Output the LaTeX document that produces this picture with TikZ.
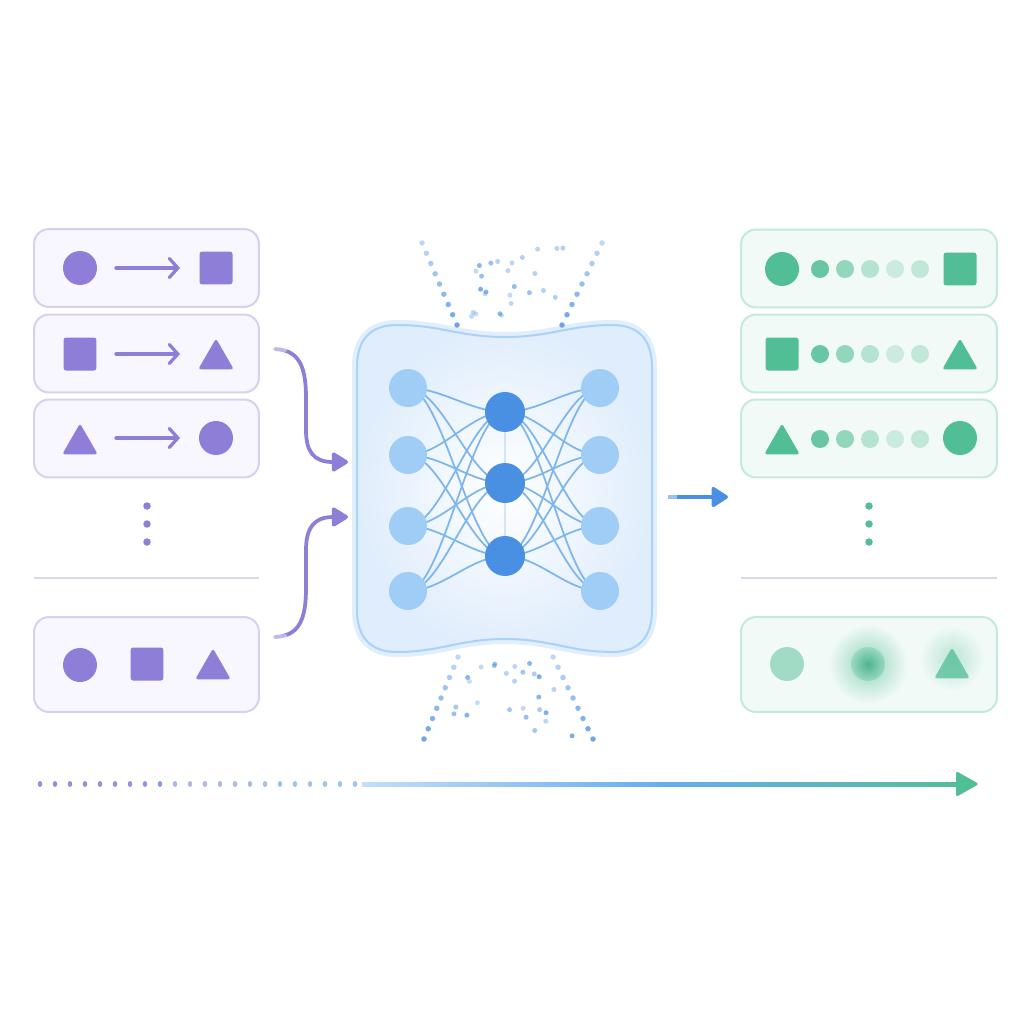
\documentclass[tikz,border=0pt]{standalone}
\usepackage{tikz}
\usetikzlibrary{shapes.geometric,arrows.meta}
\pgfdeclarelayer{back}
\pgfdeclarelayer{mid}
\pgfsetlayers{back,mid,main}
\definecolor{lav}{RGB}{143,126,216}
\definecolor{lav_fill}{RGB}{248,246,254}
\definecolor{lav_line}{RGB}{216,208,242}
\definecolor{grn}{RGB}{82,190,150}
\definecolor{grn_fill}{RGB}{242,250,247}
\definecolor{grn_line}{RGB}{196,234,218}
\definecolor{net_light}{RGB}{160,205,246}
\definecolor{net_dark}{RGB}{74,144,226}
\definecolor{net_edge}{RGB}{125,182,238}
\definecolor{net_fill}{RGB}{224,237,252}
\definecolor{net_line}{RGB}{170,210,248}
\definecolor{sep_line}{RGB}{218,215,236}
\definecolor{ax_blue}{RGB}{104,172,240}
\tikzstyle{pbox}=[draw=lav_line,fill=lav_fill,rounded corners=0.3cm,
  line width=0.04cm,minimum width=4.5cm,minimum height=1.56cm]
\tikzstyle{gbox}=[draw=grn_line,fill=grn_fill,rounded corners=0.3cm,
  line width=0.04cm,minimum width=5.12cm,minimum height=1.56cm]
\tikzstyle{pc}=[circle,fill=lav,minimum size=0.68cm,inner sep=0pt]
\tikzstyle{ps}=[rectangle,rounded corners=1.5pt,fill=lav,minimum size=0.66cm,inner sep=0pt]
\tikzstyle{pt}=[regular polygon,regular polygon sides=3,rounded corners=1.5pt,
  fill=lav,minimum size=0.82cm,inner sep=0pt,yshift=-0.1cm]
\tikzstyle{gc}=[pc,fill=grn]
\tikzstyle{gs}=[ps,fill=grn]
\tikzstyle{gt}=[pt,fill=grn]
\tikzstyle{ln}=[circle,fill=net_light,minimum size=0.76cm,inner sep=0pt]
\tikzstyle{dn}=[circle,fill=net_dark,minimum size=0.8cm,inner sep=0pt]
\tikzstyle{nedge}=[net_edge,line width=0.035cm]
\tikzstyle{parrow}=[lav,line width=0.065cm,line cap=round,shorten <=0.72cm,shorten >=0.72cm,
  -{Straight Barb[length=0.17cm,width=0.38cm,line cap=round]}]
\tikzstyle{carrow}=[lav,line width=0.075cm,line cap=round,
  -{Triangle[length=0.36cm,width=0.42cm,round]}]
\tikzstyle{sep}=[sep_line,line width=0.045cm]
\tikzstyle{none}=[]

\begin{document}
\begin{tikzpicture}[x=0.02cm, y=-0.02cm]
    \begin{pgfonlayer}{back}
    \fill[white] (0,0) rectangle (1024,1024);
    \end{pgfonlayer}
    \useasboundingbox (0,0) rectangle (1024,1024);
    % left side
    \node [style=pbox] (0) at (146.5, 268) {};
    \node [style=pbox] (1) at (146.5, 353.5) {};
    \node [style=pbox] (2) at (146.5, 438.5) {};
    \node [style=pbox, minimum height=1.9cm] (3) at (146.5, 664.5) {};
    \node [style=pc] (4) at (80, 268) {};
    \node [style=ps] (5) at (216, 268) {};
    \node [style=ps] (6) at (80, 354) {};
    \node [style=pt] (7) at (216, 354) {};
    \node [style=pt] (8) at (80, 439) {};
    \node [style=pc] (9) at (216, 438) {};
    \node [style=pc] (10) at (80, 665) {};
    \node [style=ps] (11) at (147, 664) {};
    \node [style=pt] (12) at (213, 664) {};
    \draw [style=parrow] (4.center) to (4.center -| 5.center);
    \draw [style=parrow] (6.center) to (6.center -| 7.center);
    \draw [style=parrow] (9.center -| 8.center) to (9.center);
    \foreach \y in {506,524,542}
        \fill [lav] (147, \y) circle (0.075cm);
    \draw [style=sep] (34, 578) to (259, 578);
    % arrows into the network
    \coordinate (13) at (275, 349);
    \coordinate (14) at (348, 462);
    \coordinate (15) at (275, 637);
    \coordinate (16) at (348, 517);
    \draw [style=carrow] (13) .. controls (300, 350) and (306, 368) .. (306, 398)
        -- (306, 430) .. controls (306, 452) and (314, 462) .. (14);
    \draw [style=carrow] (15) .. controls (300, 636) and (306, 618) .. (306, 588)
        -- (306, 550) .. controls (306, 528) and (314, 517) .. (16);
    \draw [white, line width=0.09cm, opacity=0.45, line cap=round] (275, 349) -- (285, 349.6);
    \draw [white, line width=0.09cm, opacity=0.45, line cap=round] (275, 637) -- (285, 636.4);
    % network box
    \begin{pgfonlayer}{back}
    \shadedraw [inner color=white, outer color=net_fill, draw=net_line, line width=0.04cm,
        preaction={draw=net_line!35, line width=0.2cm}]
        (357, 367) .. controls (357, 340) and (370, 325) .. (397, 325)
        .. controls (440, 325) and (460, 337) .. (505, 337)
        .. controls (550, 337) and (570, 325) .. (612, 325)
        .. controls (639, 325) and (652, 340) .. (652, 367)
        -- (652, 610)
        .. controls (652, 637) and (639, 652) .. (612, 652)
        .. controls (570, 652) and (550, 639) .. (505, 639)
        .. controls (460, 639) and (440, 652) .. (397, 652)
        .. controls (370, 652) and (357, 637) .. (357, 610) -- cycle;
    % dots above and below
    \pgfmathsetseed{11}
    \foreach \i in {0,...,8} {
        \pgfmathsetmacro\t{\i/8}
        \pgfmathsetmacro\o{0.35+0.45*\t}
        \fill [net_dark, opacity=\o] ({422+35*\t}, {243+82*\t}) circle (0.055cm);
        \fill [net_dark, opacity=\o] ({602-40*\t}, {243+82*\t}) circle (0.055cm);
        \fill [net_dark, opacity=\o] ({458-34*\t}, {657+82*\t}) circle (0.055cm);
        \fill [net_dark, opacity=\o] ({553+40*\t}, {657+82*\t}) circle (0.055cm);
    }
    \foreach \i in {1,...,26} {
        \pgfmathsetmacro\ty{rnd}
        \pgfmathsetmacro\tx{rnd}
        \pgfmathsetmacro\o{0.25+0.5*rnd}
        \pgfmathsetmacro\hw{80-35*\ty}
        \pgfmathsetmacro\px{512+0.85*(2*\tx-1)*\hw}
        \fill [net_dark, opacity=\o] (\px, {248+75*\ty}) circle (0.05cm);
        \pgfmathsetmacro\ty{rnd}
        \pgfmathsetmacro\tx{rnd}
        \pgfmathsetmacro\o{0.25+0.5*rnd}
        \pgfmathsetmacro\hw{45+35*\ty}
        \pgfmathsetmacro\px{508+0.85*(2*\tx-1)*\hw}
        \fill [net_dark, opacity=\o] (\px, {662+75*\ty}) circle (0.05cm);
    }
    \end{pgfonlayer}
    % network
    \node [style=ln] (30) at (408, 388) {};
    \node [style=ln] (31) at (408, 455) {};
    \node [style=ln] (32) at (408, 526) {};
    \node [style=ln] (33) at (408, 591) {};
    \node [style=dn] (34) at (505, 412) {};
    \node [style=dn] (35) at (505, 483) {};
    \node [style=dn] (36) at (505, 556) {};
    \node [style=ln] (37) at (600, 388) {};
    \node [style=ln] (38) at (600, 455) {};
    \node [style=ln] (39) at (600, 526) {};
    \node [style=ln] (40) at (600, 591) {};
    \begin{pgfonlayer}{mid}
    \draw [style=nedge, opacity=0.3] (34) to (35);
    \draw [style=nedge, opacity=0.3] (35) to (36);
    \foreach \a in {30,...,33}
        \foreach \b in {34,35,36}
            \draw [style=nedge] (\a.center) .. controls +(34, 0) and +(-34, 0) .. (\b.center);
    \foreach \b in {37,...,40}
        \foreach \a in {34,35,36}
            \draw [style=nedge] (\a.center) .. controls +(34, 0) and +(-34, 0) .. (\b.center);
    \end{pgfonlayer}
    % arrow out
    \coordinate (41) at (668, 497);
    \coordinate (42) at (728, 497);
    \draw [net_dark, line width=0.07cm, -{Triangle[length=0.36cm,width=0.44cm,round]}] (41) to (42);
    \draw [white, line width=0.08cm, opacity=0.45] (667, 497) -- (677, 497);
    % right side
    \node [style=gbox] (43) at (869, 268.5) {};
    \node [style=gbox] (44) at (869, 353.5) {};
    \node [style=gbox] (45) at (869, 438.5) {};
    \node [style=gbox, minimum height=1.9cm] (46) at (869, 664.5) {};
    \node [style=gc] (47) at (782, 269) {};
    \node [style=gs] (48) at (960, 269) {};
    \node [style=gs] (49) at (782, 354) {};
    \node [style=gt] (50) at (960, 354) {};
    \node [style=gt] (51) at (782, 439) {};
    \node [style=gc] (52) at (960, 438) {};
    \foreach \y in {269,354,439}
        \foreach \x/\o in {820/0.85, 845/0.6, 870/0.38, 895/0.24, 920/0.3}
            \fill [grn, opacity=\o] (\x, \y) circle (0.18cm);
    \foreach \y in {506,524,542}
        \fill [grn] (869, \y) circle (0.075cm);
    \draw [style=sep] (741, 578) to (997, 578);
    \node [style=gc, opacity=0.5] (53) at (787, 664) {};
    \shade [inner color=grn!60!grn_fill, outer color=grn_fill] (868, 664) circle (0.8cm);
    \shade [inner color=grn!95!black, outer color=grn!55!grn_fill] (868, 664) circle (0.34cm);
    \shade [inner color=grn!35!grn_fill, outer color=grn_fill] (952, 658) circle (0.66cm);
    \node [style=gt, opacity=0.75] (54) at (952, 663) {};
    % time axis
    \foreach \i in {0,...,21} {
        \pgfmathtruncatemacro\p{max(0,100-4*\i)}
        \pgfmathsetmacro\o{\i<9 ? 0.9 : 0.65}
        \fill [lav!\p!ax_blue, opacity=\o] ({40+15*\i}, 784) ellipse (0.045cm and 0.06cm);
    }
    \coordinate (55) at (362, 784);
    \coordinate (56) at (979, 784);
    \shade [left color=ax_blue!40!white, right color=grn, middle color=ax_blue]
        (362, 782) rectangle (962, 786);
    \fill [grn, rounded corners=1pt] (956, 771) -- (56) -- (956, 797) -- cycle;
\end{tikzpicture}
\end{document}
